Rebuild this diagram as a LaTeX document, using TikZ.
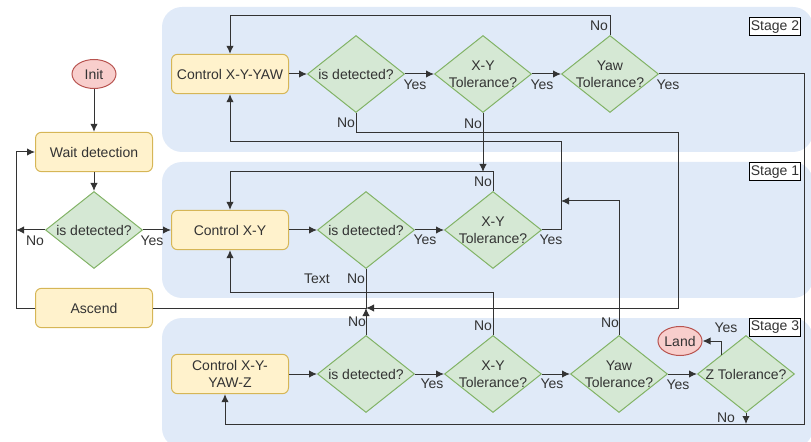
\documentclass[tikz,border=0pt]{standalone}
\usepackage{fontspec}
\setmainfont{Liberation Sans}
\usetikzlibrary{shapes.geometric,arrows.meta}

\definecolor{panel}{RGB}{224,234,248}
\definecolor{boxfill}{HTML}{FFF2CC}
\definecolor{boxline}{HTML}{D6B656}
\definecolor{decfill}{HTML}{D5E8D4}
\definecolor{decline}{HTML}{82B366}
\definecolor{termfill}{HTML}{F8CECC}
\definecolor{termline}{HTML}{B85450}
\definecolor{ink}{HTML}{333333}

\begin{document}
\begin{tikzpicture}[x=0.75pt,y=-0.75pt,
  font=\fontsize{10.5pt}{12.75pt}\selectfont, text=ink,
  stagepanel/.style={fill=panel, draw=none, rounded corners=15pt},
  actbox/.style={draw=boxline, fill=boxfill, rounded corners=4.5pt,
    minimum width=87.75pt, minimum height=29.5pt, align=center,
    inner sep=0pt, line width=0.75pt},
  decision/.style={diamond, draw=decline, fill=decfill,
    minimum width=72.75pt, minimum height=57.75pt, inner sep=0pt,
    line width=0.75pt},
  terminal/.style={ellipse, draw=termline, fill=termfill,
    minimum width=33pt, minimum height=21.75pt, inner sep=0pt,
    line width=0.75pt},
  stagetag/.style={draw=black, fill=white, inner sep=0pt,
    minimum width=38.25pt, minimum height=13.5pt, line width=0.75pt},
  flow/.style={draw=ink, line width=0.75pt},
  arr/.style={flow, -{Latex[length=6pt,width=5.5pt]}},
  lbl/.style={inner sep=0pt}
]
\useasboundingbox (0,0) rectangle (811,442);

% stage panels
\path[stagepanel] (162,7) rectangle (813,152);
\path[stagepanel] (162,162) rectangle (813,298);
\path[stagepanel] (162,318) rectangle (813,448);

\node[stagetag] (s2) at (775,27) {Stage 2};
\node[stagetag] (s1) at (775,172) {Stage 1};
\node[stagetag] (s3) at (775,327) {Stage 3};

% entry column
\node[terminal] (init) at (94,74) {Init};
\node[actbox] (wait) at (94,152) {Wait detection};
\node[decision, label={center:is detected?}] (d0) at (94,230) {};
\node[actbox] (ascend) at (94,308) {Ascend};

% stage 2
\node[actbox] (c2) at (230,74) {Control X-Y-YAW};
\node[decision, label={center:is detected?}] (d2a) at (356,74) {};
\node[decision, label={[align=center]center:X-Y\\Tolerance?}] (d2b) at (483,74) {};
\node[decision, label={[align=center]center:Yaw\\Tolerance?}] (d2c) at (610,74) {};

% stage 1
\node[actbox] (c1) at (230,230) {Control X-Y};
\node[decision, label={center:is detected?}] (d1a) at (366,230) {};
\node[decision, label={[align=center]center:X-Y\\Tolerance?}] (d1b) at (493,230) {};

% stage 3
\node[actbox] (c3) at (230,374) {Control X-Y-\\YAW-Z};
\node[decision, label={center:is detected?}] (d3a) at (366,374) {};
\node[decision, label={[align=center]center:X-Y\\Tolerance?}] (d3b) at (493,374) {};
\node[decision, label={[align=center]center:Yaw\\Tolerance?}] (d3c) at (619,374) {};
\node[decision, label={center:Z Tolerance?}] (d3d) at (746,374) {};
\node[terminal] (land) at (680,341) {Land};

% junction points where flows join other flows
\coordinate (lx) at (16,230);
\coordinate (merge) at (366,308);
\coordinate (j1) at (483,172);
\coordinate (j2) at (561,201);
\coordinate (j3) at (746,424);

% entry column flows
\draw[arr] (init) -- (wait);
\draw[arr] (wait) -- (d0);
\draw[arr] (d0) -- (c1);
\draw[arr] (d0.west) -- (lx);
\draw[arr] (ascend.west) -- (16,308) |- (wait.west);

% stage 2 flows
\draw[arr] (c2) -- (d2a);
\draw[arr] (d2a) -- (d2b);
\draw[arr] (d2b) -- (d2c);
\draw[arr] (d2c.north) |- (230,16) -- (c2.north);
\draw[arr] (d2a.south) |- (678,133) |- (merge);
\draw[arr] (d2b.south) -- (j1);
\draw[arr] (d2c.east) -| (804,424) -| ([xshift=-3.75pt]c3.south);

% stage 1 flows
\draw[arr] (c1) -- (d1a);
\draw[arr] (d1a) -- (d1b);
\draw[arr] (d1b.north) |- (230,172) -- (c1.north);
\draw[arr] (d1b.east) -| (561,142) -| (c2.south);
\draw[flow] (d1a.south) |- (ascend.east);

% stage 3 flows
\draw[arr] (c3) -- (d3a);
\draw[arr] (d3a) -- (d3b);
\draw[arr] (d3b) -- (d3c);
\draw[arr] (d3c) -- (d3d);
\draw[arr] (d3a.north) -- (merge);
\draw[arr] (d3b.north) |- (230,293) -- (c1.south);
\draw[arr] (d3c.north) |- (j2);
\draw[arr] (d3d.north west) |- (land.east);
\draw[arr] (d3d.south) -- (j3);

% branch labels
\node[lbl] at (35,241) {No};
\node[lbl] at (152,241) {Yes};
\node[lbl] at (415,85) {Yes};
\node[lbl] at (542,85) {Yes};
\node[lbl] at (668,85) {Yes};
\node[lbl] at (346,123) {No};
\node[lbl] at (473,124) {No};
\node[lbl] at (599,26) {No};
\node[lbl] at (425,240) {Yes};
\node[lbl] at (551,240) {Yes};
\node[lbl] at (483,182) {No};
\node[lbl] at (317,279) {Text};
\node[lbl] at (356,279) {No};
\node[lbl] at (357,322) {No};
\node[lbl] at (483,326) {No};
\node[lbl] at (610,323) {No};
\node[lbl] at (432,384) {Yes};
\node[lbl] at (552,384) {Yes};
\node[lbl] at (678,385) {Yes};
\node[lbl] at (726,328) {Yes};
\node[lbl] at (726,418) {No};
\end{tikzpicture}
\end{document}
